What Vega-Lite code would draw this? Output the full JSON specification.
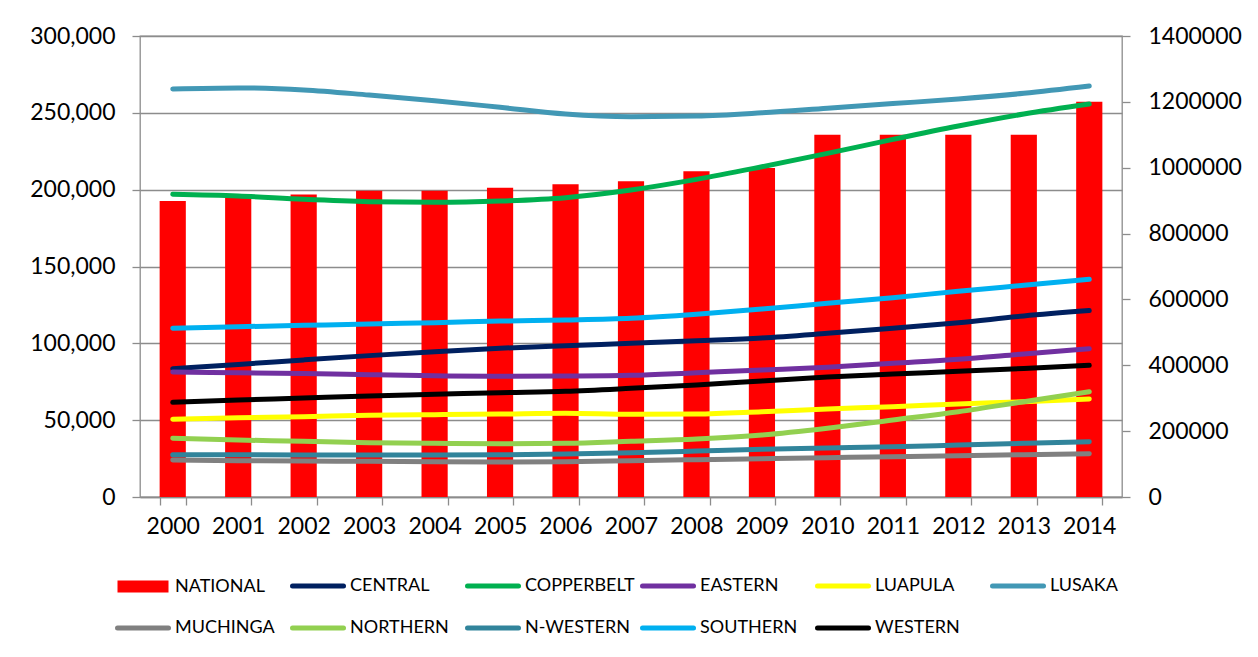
{
"$schema": "https://vega.github.io/schema/vega-lite/v6.json",
"width": 982, "height": 461,
"autosize": {"type": "none"},
"padding": {"left": 140, "top": 36, "right": 136, "bottom": 160},
"background": "white",
"data": {"values": [
{"year":"2000","region":"NATIONAL","value":899000},{"year":"2001","region":"NATIONAL","value":910000},{"year":"2002","region":"NATIONAL","value":919000},{"year":"2003","region":"NATIONAL","value":930000},{"year":"2004","region":"NATIONAL","value":930000},{"year":"2005","region":"NATIONAL","value":939000},{"year":"2006","region":"NATIONAL","value":950000},{"year":"2007","region":"NATIONAL","value":959000},{"year":"2008","region":"NATIONAL","value":989000},{"year":"2009","region":"NATIONAL","value":999000},{"year":"2010","region":"NATIONAL","value":1100000},{"year":"2011","region":"NATIONAL","value":1100000},{"year":"2012","region":"NATIONAL","value":1100000},{"year":"2013","region":"NATIONAL","value":1100000},{"year":"2014","region":"NATIONAL","value":1200000},
{"year":"2000","region":"CENTRAL","value":83500},{"year":"2001","region":"CENTRAL","value":86300},{"year":"2002","region":"CENTRAL","value":89200},{"year":"2003","region":"CENTRAL","value":92000},{"year":"2004","region":"CENTRAL","value":94600},{"year":"2005","region":"CENTRAL","value":96800},{"year":"2006","region":"CENTRAL","value":98500},{"year":"2007","region":"CENTRAL","value":100000},{"year":"2008","region":"CENTRAL","value":101700},{"year":"2009","region":"CENTRAL","value":103500},{"year":"2010","region":"CENTRAL","value":106500},{"year":"2011","region":"CENTRAL","value":109800},{"year":"2012","region":"CENTRAL","value":113400},{"year":"2013","region":"CENTRAL","value":117800},{"year":"2014","region":"CENTRAL","value":121300},
{"year":"2000","region":"COPPERBELT","value":197000},{"year":"2001","region":"COPPERBELT","value":195900},{"year":"2002","region":"COPPERBELT","value":193700},{"year":"2003","region":"COPPERBELT","value":192200},{"year":"2004","region":"COPPERBELT","value":191800},{"year":"2005","region":"COPPERBELT","value":192600},{"year":"2006","region":"COPPERBELT","value":194800},{"year":"2007","region":"COPPERBELT","value":199800},{"year":"2008","region":"COPPERBELT","value":206700},{"year":"2009","region":"COPPERBELT","value":214900},{"year":"2010","region":"COPPERBELT","value":223600},{"year":"2011","region":"COPPERBELT","value":232700},{"year":"2012","region":"COPPERBELT","value":241400},{"year":"2013","region":"COPPERBELT","value":249200},{"year":"2014","region":"COPPERBELT","value":255700},
{"year":"2000","region":"EASTERN","value":81300},{"year":"2001","region":"EASTERN","value":80900},{"year":"2002","region":"EASTERN","value":80300},{"year":"2003","region":"EASTERN","value":79600},{"year":"2004","region":"EASTERN","value":78900},{"year":"2005","region":"EASTERN","value":78500},{"year":"2006","region":"EASTERN","value":78700},{"year":"2007","region":"EASTERN","value":79200},{"year":"2008","region":"EASTERN","value":80900},{"year":"2009","region":"EASTERN","value":82600},{"year":"2010","region":"EASTERN","value":84400},{"year":"2011","region":"EASTERN","value":87000},{"year":"2012","region":"EASTERN","value":89600},{"year":"2013","region":"EASTERN","value":93100},{"year":"2014","region":"EASTERN","value":96500},
{"year":"2000","region":"LUAPULA","value":50600},{"year":"2001","region":"LUAPULA","value":51600},{"year":"2002","region":"LUAPULA","value":52300},{"year":"2003","region":"LUAPULA","value":53200},{"year":"2004","region":"LUAPULA","value":53600},{"year":"2005","region":"LUAPULA","value":54000},{"year":"2006","region":"LUAPULA","value":54500},{"year":"2007","region":"LUAPULA","value":53800},{"year":"2008","region":"LUAPULA","value":54000},{"year":"2009","region":"LUAPULA","value":55500},{"year":"2010","region":"LUAPULA","value":57300},{"year":"2011","region":"LUAPULA","value":58800},{"year":"2012","region":"LUAPULA","value":60500},{"year":"2013","region":"LUAPULA","value":62000},{"year":"2014","region":"LUAPULA","value":63800},
{"year":"2000","region":"LUSAKA","value":265500},{"year":"2001","region":"LUSAKA","value":266200},{"year":"2002","region":"LUSAKA","value":264900},{"year":"2003","region":"LUSAKA","value":261600},{"year":"2004","region":"LUSAKA","value":257900},{"year":"2005","region":"LUSAKA","value":253600},{"year":"2006","region":"LUSAKA","value":249200},{"year":"2007","region":"LUSAKA","value":247500},{"year":"2008","region":"LUSAKA","value":247900},{"year":"2009","region":"LUSAKA","value":250000},{"year":"2010","region":"LUSAKA","value":253000},{"year":"2011","region":"LUSAKA","value":256000},{"year":"2012","region":"LUSAKA","value":259000},{"year":"2013","region":"LUSAKA","value":262700},{"year":"2014","region":"LUSAKA","value":267400},
{"year":"2000","region":"MUCHINGA","value":24100},{"year":"2001","region":"MUCHINGA","value":23600},{"year":"2002","region":"MUCHINGA","value":23400},{"year":"2003","region":"MUCHINGA","value":23200},{"year":"2004","region":"MUCHINGA","value":23000},{"year":"2005","region":"MUCHINGA","value":22800},{"year":"2006","region":"MUCHINGA","value":23000},{"year":"2007","region":"MUCHINGA","value":23600},{"year":"2008","region":"MUCHINGA","value":24300},{"year":"2009","region":"MUCHINGA","value":24900},{"year":"2010","region":"MUCHINGA","value":25600},{"year":"2011","region":"MUCHINGA","value":26200},{"year":"2012","region":"MUCHINGA","value":26900},{"year":"2013","region":"MUCHINGA","value":27500},{"year":"2014","region":"MUCHINGA","value":28200},
{"year":"2000","region":"NORTHERN","value":38200},{"year":"2001","region":"NORTHERN","value":37100},{"year":"2002","region":"NORTHERN","value":36200},{"year":"2003","region":"NORTHERN","value":35300},{"year":"2004","region":"NORTHERN","value":34900},{"year":"2005","region":"NORTHERN","value":34700},{"year":"2006","region":"NORTHERN","value":34900},{"year":"2007","region":"NORTHERN","value":36200},{"year":"2008","region":"NORTHERN","value":37700},{"year":"2009","region":"NORTHERN","value":40300},{"year":"2010","region":"NORTHERN","value":44700},{"year":"2011","region":"NORTHERN","value":50100},{"year":"2012","region":"NORTHERN","value":55500},{"year":"2013","region":"NORTHERN","value":62000},{"year":"2014","region":"NORTHERN","value":68500},
{"year":"2000","region":"N-WESTERN","value":27500},{"year":"2001","region":"N-WESTERN","value":27500},{"year":"2002","region":"N-WESTERN","value":27400},{"year":"2003","region":"N-WESTERN","value":27400},{"year":"2004","region":"N-WESTERN","value":27400},{"year":"2005","region":"N-WESTERN","value":27500},{"year":"2006","region":"N-WESTERN","value":28000},{"year":"2007","region":"N-WESTERN","value":28800},{"year":"2008","region":"N-WESTERN","value":29900},{"year":"2009","region":"N-WESTERN","value":31000},{"year":"2010","region":"N-WESTERN","value":31900},{"year":"2011","region":"N-WESTERN","value":32700},{"year":"2012","region":"N-WESTERN","value":33800},{"year":"2013","region":"N-WESTERN","value":34900},{"year":"2014","region":"N-WESTERN","value":36000},
{"year":"2000","region":"SOUTHERN","value":109800},{"year":"2001","region":"SOUTHERN","value":110800},{"year":"2002","region":"SOUTHERN","value":111700},{"year":"2003","region":"SOUTHERN","value":112600},{"year":"2004","region":"SOUTHERN","value":113400},{"year":"2005","region":"SOUTHERN","value":114500},{"year":"2006","region":"SOUTHERN","value":115200},{"year":"2007","region":"SOUTHERN","value":116300},{"year":"2008","region":"SOUTHERN","value":118900},{"year":"2009","region":"SOUTHERN","value":122300},{"year":"2010","region":"SOUTHERN","value":126100},{"year":"2011","region":"SOUTHERN","value":129700},{"year":"2012","region":"SOUTHERN","value":133900},{"year":"2013","region":"SOUTHERN","value":137800},{"year":"2014","region":"SOUTHERN","value":141700},
{"year":"2000","region":"WESTERN","value":61600},{"year":"2001","region":"WESTERN","value":63100},{"year":"2002","region":"WESTERN","value":64400},{"year":"2003","region":"WESTERN","value":65700},{"year":"2004","region":"WESTERN","value":66800},{"year":"2005","region":"WESTERN","value":67900},{"year":"2006","region":"WESTERN","value":68800},{"year":"2007","region":"WESTERN","value":70700},{"year":"2008","region":"WESTERN","value":72900},{"year":"2009","region":"WESTERN","value":75500},{"year":"2010","region":"WESTERN","value":78100},{"year":"2011","region":"WESTERN","value":80000},{"year":"2012","region":"WESTERN","value":81800},{"year":"2013","region":"WESTERN","value":83700},{"year":"2014","region":"WESTERN","value":85700}
]},
"layer": [
{
"transform": [{"filter": "datum.region === 'NATIONAL'"}],
"mark": {"type": "bar"},
"encoding": {
"x": {"field": "year", "type": "ordinal", "scale": {"paddingInner": 0.6, "paddingOuter": 0.3},
 "axis": {"title": null, "labelAngle": 0, "tickBand": "extent", "labelFontSize": 23, "labelFont": "Lato", "labelColor": "#000000", "labelPadding": 10, "tickSize": 8, "tickColor": "#8c8c8c", "tickWidth": 1.3, "domainColor": "#8c8c8c", "domainWidth": 1.3}},
"y": {"field": "value", "type": "quantitative", "scale": {"domain": [0, 1400000], "nice": false},
 "axis": {"orient": "right", "title": null, "values": [0,200000,400000,600000,800000,1000000,1200000,1400000], "format": "d", "grid": false, "domain": false, "tickSize": 8, "tickColor": "#8c8c8c", "tickWidth": 1.3, "labelPadding": 18, "labelFontSize": 23, "labelFont": "Lato", "labelColor": "#000000"}},
"color": {"field": "region", "type": "nominal",
 "scale": {"domain": ["NATIONAL","CENTRAL","COPPERBELT","EASTERN","LUAPULA","LUSAKA","MUCHINGA","NORTHERN","N-WESTERN","SOUTHERN","WESTERN"],
           "range": ["#FF0000","#002060","#00B050","#7030A0","#FFFF00","#4298B5","#808080","#92D050","#31849B","#00B0F0","#000000"]},
 "legend": {"title": null, "orient": "none", "direction": "horizontal", "legendX": -23, "legendY": 541, "columns": 6, "symbolSize": 2601, "symbolType": "stroke", "symbolStrokeWidth": 5, "labelFontSize": 18, "labelFont": "Lato", "labelColor": "#000000", "rowPadding": 22, "columnPadding": -3, "gridAlign": "all", "labelOffset": 6, "padding": 0, "labelLimit": 300,
  "encode": {
   "symbols": {"update": {
    "x": {"value": 26},
    "size": {"value": 2601},
    "shape": {"signal": "datum.value === 'NATIONAL' ? 'M-1,-0.235H1V0.235H-1Z' : 'stroke'"},
    "fill": {"signal": "scale('color', datum.value)"},
    "stroke": {"signal": "scale('color', datum.value)"},
    "strokeWidth": {"signal": "datum.value === 'NATIONAL' ? 0 : 5"},
    "strokeCap": {"value": "round"},
    "opacity": {"value": 1}}},
   "labels": {"update": {"x": {"value": 58}}}}}}
}
},
{
"transform": [{"filter": "datum.region !== 'NATIONAL'"}],
"mark": {"type": "line", "strokeWidth": 5, "strokeCap": "round", "interpolate": "monotone"},
"encoding": {
"x": {"field": "year", "type": "ordinal", "bandPosition": 0.5,
 "axis": {"title": null, "labelAngle": 0, "tickBand": "extent", "labelFontSize": 23, "labelFont": "Lato", "labelColor": "#000000", "labelPadding": 10, "tickSize": 8, "tickColor": "#8c8c8c", "tickWidth": 1.3, "domainColor": "#8c8c8c", "domainWidth": 1.3}},
"y": {"field": "value", "type": "quantitative", "scale": {"domain": [0, 300000], "nice": false},
 "axis": {"orient": "left", "title": null, "values": [0,50000,100000,150000,200000,250000,300000], "format": ",d", "grid": true, "gridColor": "#8c8c8c", "gridWidth": 1.3, "domain": false, "tickSize": 8, "tickColor": "#8c8c8c", "tickWidth": 1.3, "labelPadding": 17, "labelFontSize": 23, "labelFont": "Lato", "labelColor": "#000000"}},
"color": {"field": "region", "type": "nominal",
 "scale": {"domain": ["NATIONAL","CENTRAL","COPPERBELT","EASTERN","LUAPULA","LUSAKA","MUCHINGA","NORTHERN","N-WESTERN","SOUTHERN","WESTERN"],
           "range": ["#FF0000","#002060","#00B050","#7030A0","#FFFF00","#4298B5","#808080","#92D050","#31849B","#00B0F0","#000000"]},
 "legend": {"title": null, "orient": "none", "direction": "horizontal", "legendX": -23, "legendY": 541, "columns": 6, "symbolSize": 2601, "symbolType": "stroke", "symbolStrokeWidth": 5, "labelFontSize": 18, "labelFont": "Lato", "labelColor": "#000000", "rowPadding": 22, "columnPadding": -3, "gridAlign": "all", "labelOffset": 6, "padding": 0, "labelLimit": 300,
  "encode": {
   "symbols": {"update": {
    "x": {"value": 26},
    "size": {"value": 2601},
    "shape": {"signal": "datum.value === 'NATIONAL' ? 'M-1,-0.235H1V0.235H-1Z' : 'stroke'"},
    "fill": {"signal": "scale('color', datum.value)"},
    "stroke": {"signal": "scale('color', datum.value)"},
    "strokeWidth": {"signal": "datum.value === 'NATIONAL' ? 0 : 5"},
    "strokeCap": {"value": "round"},
    "opacity": {"value": 1}}},
   "labels": {"update": {"x": {"value": 58}}}}}}
}
}
],
"resolve": {"scale": {"y": "independent"}},
"config": {
"view": {"stroke": "#8c8c8c", "strokeWidth": 1.3},
"font": "Lato"
}
}
